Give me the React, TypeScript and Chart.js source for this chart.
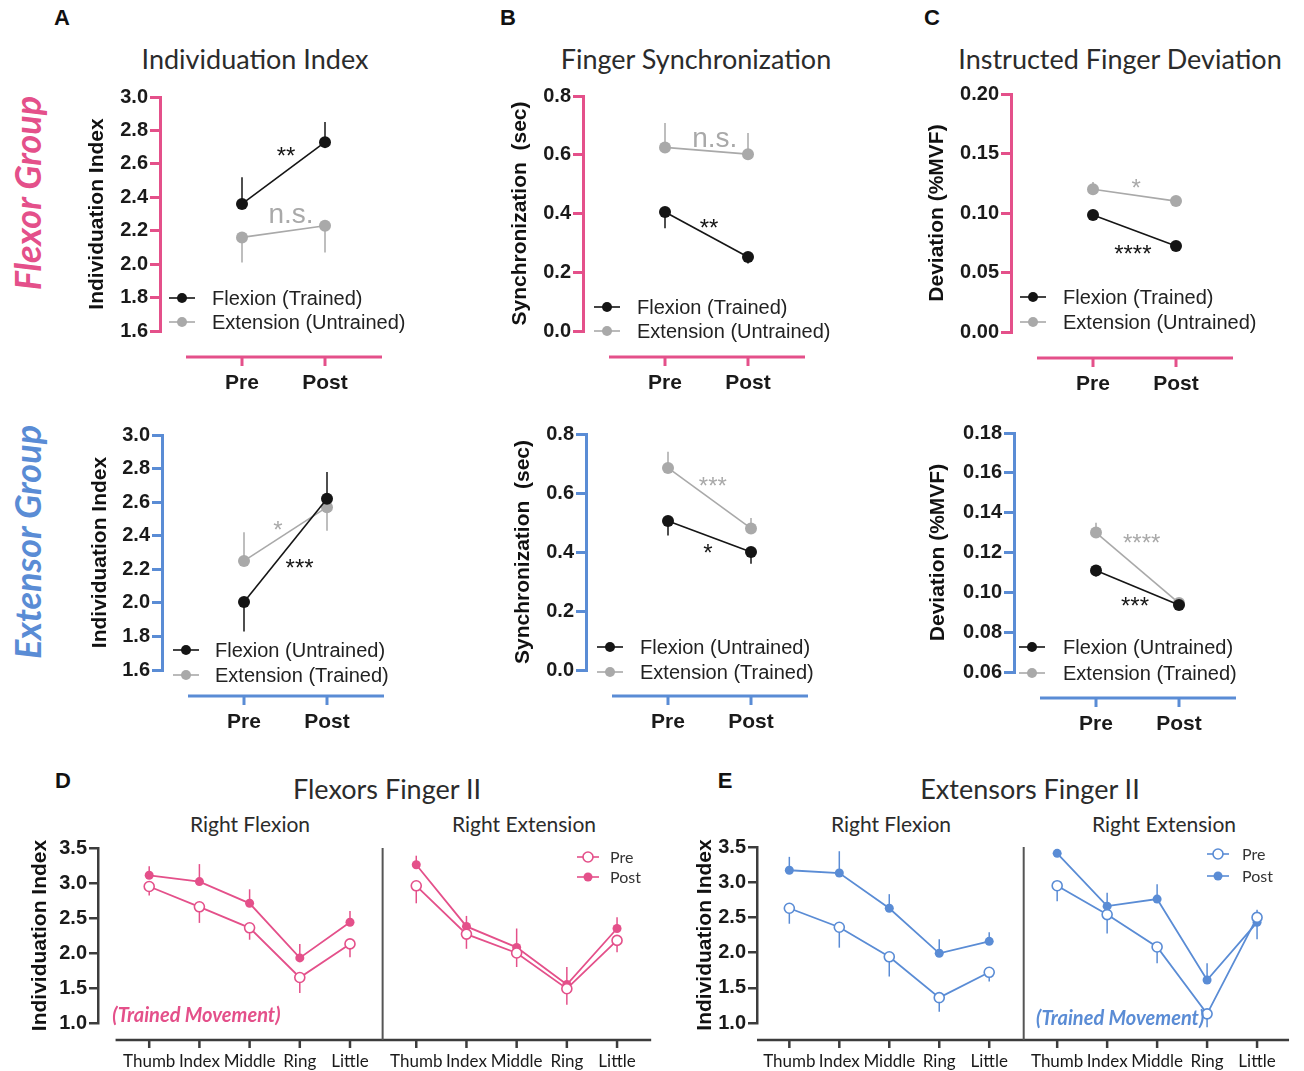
import React, { useEffect, useRef } from "react";
import { Chart, registerables } from "chart.js";
Chart.register(...registerables);

// ---------- colours & fonts ----------
const PINK = "#E4508A";
const BLUE = "#5A8CD5";
const DARK = "#151515";
const GRAY = "#A9A9A9";
const AXIS_DARK = "#3C3C3C";
const ARIAL = "'Liberation Sans', Arial, sans-serif";
const LATO = "Lato, 'Open Sans', sans-serif";

// ---------- categories ----------
const PHASES = ["Pre", "Post"];
const FINGERS = ["Thumb", "Index", "Middle", "Ring", "Little"];

// ---------- A: Individuation Index ----------
const A_FLEX_FLEXION = [2.36, 2.73];
const A_FLEX_FLEXION_HI = [2.52, 2.85];
const A_FLEX_EXTENSION = [2.16, 2.23];
const A_FLEX_EXTENSION_LO = [2.01, 2.07];
const A_EXT_FLEXION = [2.005, 2.62];
const A_EXT_FLEXION_HI = [null, 2.78];
const A_EXT_FLEXION_LO = [1.83, null];
const A_EXT_EXTENSION = [2.25, 2.57];
const A_EXT_EXTENSION_HI = [2.42, null];
const A_EXT_EXTENSION_LO = [null, 2.43];
const A_TICKS = { min: 1.6, max: 3.0, step: 0.2, decimals: 1 };

// ---------- B: Finger Synchronization ----------
const B_FLEX_FLEXION = [0.405, 0.252];
const B_FLEX_FLEXION_LO = [0.35, 0.23];
const B_FLEX_EXTENSION = [0.625, 0.602];
const B_FLEX_EXTENSION_HI = [0.708, 0.674];
const B_EXT_FLEXION = [0.505, 0.4];
const B_EXT_FLEXION_LO = [0.456, 0.36];
const B_EXT_EXTENSION = [0.685, 0.48];
const B_EXT_EXTENSION_HI = [0.74, 0.515];
const B_TICKS = { min: 0, max: 0.8, step: 0.2, decimals: 1 };

// ---------- C: Instructed Finger Deviation ----------
const C_FLEX_FLEXION = [0.0983, 0.0723];
const C_FLEX_EXTENSION = [0.12, 0.11];
const C_FLEX_EXTENSION_HI = [0.126, 0.114];
const C_EXT_FLEXION = [0.111, 0.0936];
const C_EXT_FLEXION_LO = [0.108, null];
const C_EXT_EXTENSION = [0.13, 0.0946];
const C_EXT_EXTENSION_HI = [0.135, null];
const C_FLEX_TICKS = { min: 0, max: 0.2, step: 0.05, decimals: 2 };
const C_EXT_TICKS = { min: 0.06, max: 0.18, step: 0.02, decimals: 2 };

// ---------- D: Flexors Finger II ----------
const D_FLEXION_PRE = [2.95, 2.66, 2.36, 1.65, 2.13];
const D_FLEXION_PRE_LO = [2.82, 2.43, 2.19, 1.43, 1.94];
const D_FLEXION_POST = [3.11, 3.02, 2.71, 1.93, 2.44];
const D_FLEXION_POST_HI = [3.24, 3.27, 2.91, 2.13, 2.6];
const D_EXTENSION_PRE = [2.96, 2.27, 2.0, 1.49, 2.18];
const D_EXTENSION_PRE_LO = [2.71, 2.06, 1.8, 1.26, 2.01];
const D_EXTENSION_POST = [3.26, 2.38, 2.08, 1.55, 2.35];
const D_EXTENSION_POST_HI = [3.39, 2.53, 2.35, 1.8, 2.51];

// ---------- E: Extensors Finger II ----------
const E_FLEXION_PRE = [2.63, 2.36, 1.94, 1.36, 1.72];
const E_FLEXION_PRE_LO = [2.41, 2.07, 1.66, 1.16, 1.59];
const E_FLEXION_POST = [3.17, 3.13, 2.63, 1.99, 2.16];
const E_FLEXION_POST_HI = [3.36, 3.44, 2.83, 2.19, 2.29];
const E_EXTENSION_PRE = [2.95, 2.54, 2.08, 1.13, 2.5];
const E_EXTENSION_PRE_LO = [2.73, 2.27, 1.85, 0.94, null];
const E_EXTENSION_PRE_HI = [null, null, null, null, 2.61];
const E_EXTENSION_POST = [3.41, 2.66, 2.76, 1.61, 2.43];
const E_EXTENSION_POST_HI = [null, 2.85, 2.97, 1.85, null];
const E_EXTENSION_POST_LO = [null, null, null, null, 2.19];
const FINGER_TICKS = { min: 1.0, max: 3.5, step: 0.5, decimals: 1 };

// ---------- types ----------
type Box = { left: number; top: number; right: number; bottom: number };
type Bound = (number | null)[];
type Series = { label: string; color: string; values: number[]; hi?: Bound; lo?: Bound; open?: boolean };
type Note = { text: string; x: number; y: number; color: string; font: string; size: number };
type Ticks = { min: number; max: number; step: number; decimals: number };

// ---------- plugins ----------
const errorBarPlugin = {
  id: "errorBars",
  beforeDatasetsDraw(chart: any) {
    const ctx = chart.ctx;
    const ys = chart.scales.y;
    chart.data.datasets.forEach((ds: any, di: number) => {
      const meta = chart.getDatasetMeta(di);
      ctx.save();
      ctx.strokeStyle = ds.borderColor;
      ctx.lineWidth = ds.errWidth || 1.5;
      meta.data.forEach((pt: any, i: number) => {
        [ds.errHi && ds.errHi[i], ds.errLo && ds.errLo[i]].forEach((b: any) => {
          if (b === null || b === undefined) return;
          ctx.beginPath();
          ctx.moveTo(pt.x, pt.y);
          ctx.lineTo(pt.x, ys.getPixelForValue(b));
          ctx.stroke();
        });
      });
      ctx.restore();
    });
  },
};

function detachedAxisPlugin(cfg: { from: number; to: number; gap: number; color: string; width: number; tickLen: number; ticks: number[] }) {
  return {
    id: "detachedAxis",
    afterDraw(chart: any) {
      const { ctx, chartArea } = chart;
      const xs = chart.scales.x;
      const y = chartArea.bottom + cfg.gap;
      ctx.save();
      ctx.strokeStyle = cfg.color;
      ctx.lineWidth = cfg.width;
      ctx.beginPath();
      ctx.moveTo(xs.getPixelForValue(cfg.from), y);
      ctx.lineTo(xs.getPixelForValue(cfg.to), y);
      ctx.stroke();
      cfg.ticks.forEach((v) => {
        const x = xs.getPixelForValue(v);
        ctx.beginPath();
        ctx.moveTo(x, y);
        ctx.lineTo(x, y + cfg.tickLen);
        ctx.stroke();
      });
      ctx.restore();
    },
  };
}

function separatorPlugin(cfg: { at: number; gap: number; color: string; width: number }) {
  return {
    id: "separator",
    afterDraw(chart: any) {
      const { ctx, chartArea } = chart;
      const x = chart.scales.x.getPixelForValue(cfg.at);
      ctx.save();
      ctx.strokeStyle = cfg.color;
      ctx.lineWidth = cfg.width;
      ctx.beginPath();
      ctx.moveTo(x, chartArea.top);
      ctx.lineTo(x, chartArea.bottom + cfg.gap);
      ctx.stroke();
      ctx.restore();
    },
  };
}

function notesPlugin(notes: Note[]) {
  return {
    id: "notes",
    afterDatasetsDraw(chart: any) {
      const ctx = chart.ctx;
      ctx.save();
      notes.forEach((n) => {
        const x = chart.scales.x.getPixelForValue(n.x);
        const y = chart.scales.y.getPixelForValue(n.y);
        ctx.font = n.font;
        ctx.fillStyle = n.color;
        ctx.textAlign = "center";
        ctx.textBaseline = "alphabetic";
        const lift = n.text.includes("*") ? 0.58 : n.text.includes("(") ? 0.33 : 0.26;
        ctx.fillText(n.text, x, y + lift * n.size);
      });
      ctx.restore();
    },
  };
}

function legendPlugin(cfg: { indices: number[]; markerDx: number; textDx: number; rows: number[]; fromBottom: boolean; font: string; color: string; half: number; radius: number }) {
  return {
    id: "insetLegend",
    afterDraw(chart: any) {
      const { ctx, chartArea } = chart;
      ctx.save();
      cfg.indices.forEach((di, k) => {
        const ds = chart.data.datasets[di];
        const y = (cfg.fromBottom ? chartArea.bottom : chartArea.top) + cfg.rows[k];
        const mx = chartArea.left + cfg.markerDx;
        ctx.strokeStyle = ds.borderColor;
        ctx.lineWidth = 1.6;
        ctx.beginPath();
        ctx.moveTo(mx - cfg.half, y);
        ctx.lineTo(mx + cfg.half, y);
        ctx.stroke();
        ctx.beginPath();
        ctx.arc(mx, y, ds.open ? cfg.radius + 0.5 : cfg.radius, 0, Math.PI * 2);
        ctx.fillStyle = ds.open ? "#ffffff" : ds.borderColor;
        ctx.fill();
        if (ds.open) ctx.stroke();
        ctx.font = cfg.font;
        ctx.fillStyle = cfg.color;
        ctx.textAlign = "left";
        ctx.textBaseline = "middle";
        ctx.fillText(ds.label, chartArea.left + cfg.textDx, y + 1);
      });
      ctx.restore();
    },
  };
}

// ---------- chart builders ----------
type Built = { rect: { x: number; y: number; w: number; h: number }; config: any };

function frame(area: Box, extra: { l: number; t: number; r: number; b: number }, yW: number, xH: number) {
  const rect = {
    x: area.left - extra.l,
    y: area.top - extra.t,
    w: area.right - area.left + extra.l + extra.r,
    h: area.bottom - area.top + extra.t + extra.b,
  };
  const padding = { left: extra.l - yW, top: extra.t, right: extra.r, bottom: extra.b - xH };
  return { rect, padding };
}

function yScale(t: Ticks, color: string, width: number, title: string, yW: number, tickLen: number) {
  return {
    type: "linear",
    min: t.min,
    max: t.max,
    afterFit: (s: any) => {
      s.width = yW;
    },
    afterBuildTicks: (s: any) => {
      const arr: any[] = [];
      for (let v = t.min; v <= t.max + 1e-9; v += t.step) arr.push({ value: +v.toFixed(6) });
      s.ticks = arr;
    },
    ticks: {
      color: "#1a1a1a",
      padding: 2,
      font: { family: ARIAL, size: 20, weight: "bold" },
      callback: (v: any) => Number(v).toFixed(t.decimals),
    },
    grid: { display: true, drawOnChartArea: false, drawTicks: true, tickLength: tickLen, color, lineWidth: width },
    border: { display: true, color, width },
    title: { display: true, text: title, color: "#111", padding: 0, font: { family: ARIAL, size: 21, weight: "bold", lineHeight: 1.2 } },
  };
}

function xScale(min: number, max: number, values: number[], labels: string[], xH: number, font: any, pad: number) {
  return {
    type: "linear",
    min,
    max,
    afterFit: (s: any) => {
      s.height = xH;
    },
    afterBuildTicks: (s: any) => {
      s.ticks = values.map((v) => ({ value: v }));
    },
    ticks: { autoSkip: false, maxRotation: 0, color: "#1a1a1a", padding: pad, font, callback: (_v: any, i: number) => labels[i] },
    grid: { display: false, drawTicks: false },
    border: { display: false },
  };
}

function makeDataset(s: Series, xs: number[], radius: number, lineWidth: number) {
  return {
    label: s.label,
    data: s.values.map((v, i) => ({ x: xs[i], y: v })),
    borderColor: s.color,
    backgroundColor: s.open ? "#ffffff" : s.color,
    pointBackgroundColor: s.open ? "#ffffff" : s.color,
    pointBorderColor: s.color,
    pointBorderWidth: s.open ? 1.6 : 0,
    pointRadius: radius,
    pointHoverRadius: radius,
    borderWidth: lineWidth,
    showLine: true,
    fill: false,
    tension: 0,
    clip: false,
    errHi: s.hi,
    errLo: s.lo,
    open: !!s.open,
  };
}

type SmallSpec = {
  area: Box;
  axisColor: string;
  ticks: Ticks;
  yTitle: string;
  titleCX: number;
  series: Series[];
  notes: Note[];
  legend: { markerDx: number; textDx: number; rows: number[] };
};

function buildSmall(sp: SmallSpec): Built {
  const yW = sp.area.left - sp.titleCX + 12.6;
  const xH = 72;
  const { rect, padding } = frame(sp.area, { l: 110, t: 30, r: 48, b: 75 }, yW, xH);
  const unit = 83;
  const preDx = 82;
  const width = sp.area.right - sp.area.left;
  const xmin = -preDx / unit;
  const xmax = (width - preDx) / unit;
  const xs = [0, 1];
  return {
    rect,
    config: {
      type: "line",
      data: { datasets: sp.series.map((s) => makeDataset(s, xs, 6, 1.6)) },
      options: {
        responsive: false,
        animation: false,
        devicePixelRatio: 1,
        layout: { autoPadding: false, padding },
        plugins: { legend: { display: false }, tooltip: { enabled: false } },
        scales: {
          x: xScale(xmin, xmax, xs, PHASES, xH, { family: ARIAL, size: 21, weight: "bold" }, 40),
          y: yScale(sp.ticks, sp.axisColor, 3, sp.yTitle, yW, 10),
        },
      },
      plugins: [
        errorBarPlugin,
        detachedAxisPlugin({ from: (26 - preDx) / unit, to: (222 - preDx) / unit, gap: 26, color: sp.axisColor, width: 3, tickLen: 9, ticks: xs }),
        notesPlugin(sp.notes),
        legendPlugin({ indices: [0, 1], markerDx: sp.legend.markerDx, textDx: sp.legend.textDx, rows: sp.legend.rows, fromBottom: true, font: `20px ${ARIAL}`, color: "#222", half: 13, radius: 5 }),
      ],
    },
  };
}

type FingerSpec = {
  area: Box;
  color: string;
  xMin: number;
  xMax: number;
  rightShift: number;
  axisFrom: number;
  separatorAt: number;
  titleCX: number;
  flexPre: Series;
  flexPost: Series;
  extPre: Series;
  extPost: Series;
  notes: Note[];
  legend: { markerDx: number; textDx: number; rows: number[] };
  extraLeft: number;
};

function buildFinger(sp: FingerSpec): Built {
  const yW = sp.area.left - sp.titleCX + 12.6;
  const xH = 48;
  const { rect, padding } = frame(sp.area, { l: sp.extraLeft, t: 22, r: 4, b: 48 }, yW, xH);
  const left = FINGERS.map((_, i) => i);
  const right = FINGERS.map((_, i) => i + sp.rightShift);
  const tickVals = [...left, ...right];
  const tickLabels = [...FINGERS, ...FINGERS];
  return {
    rect,
    config: {
      type: "line",
      data: {
        datasets: [
          makeDataset(sp.flexPre, left, 5, 1.8),
          makeDataset(sp.flexPost, left, 4.5, 1.8),
          makeDataset(sp.extPre, right, 5, 1.8),
          makeDataset(sp.extPost, right, 4.5, 1.8),
        ],
      },
      options: {
        responsive: false,
        animation: false,
        devicePixelRatio: 1,
        layout: { autoPadding: false, padding },
        plugins: { legend: { display: false }, tooltip: { enabled: false } },
        scales: {
          x: xScale(sp.xMin, sp.xMax, tickVals, tickLabels, xH, { family: LATO, size: 17 }, 28),
          y: yScale(FINGER_TICKS, AXIS_DARK, 2.5, "Individuation Index", yW, 9),
        },
      },
      plugins: [
        errorBarPlugin,
        detachedAxisPlugin({ from: sp.axisFrom, to: sp.xMax, gap: 17, color: AXIS_DARK, width: 2.5, tickLen: 8, ticks: tickVals }),
        separatorPlugin({ at: sp.separatorAt, gap: 17, color: "#555555", width: 2 }),
        notesPlugin(sp.notes),
        legendPlugin({ indices: [0, 1], markerDx: sp.legend.markerDx, textDx: sp.legend.textDx, rows: sp.legend.rows, fromBottom: false, font: `16px ${LATO}`, color: "#333", half: 11, radius: 4.5 }),
      ],
    },
  };
}

// ---------- specs ----------
const FLEX_T = "Flexion (Trained)";
const EXT_U = "Extension (Untrained)";
const FLEX_U = "Flexion (Untrained)";
const EXT_T = "Extension (Trained)";
const star = (size: number) => `${size}px ${ARIAL}`;
const TRAINED_FONT = `italic bold 20px ${LATO}`;

const CHARTS: Built[] = [
  buildSmall({
    area: { left: 160, top: 97, right: 400, bottom: 331 },
    axisColor: PINK,
    ticks: A_TICKS,
    yTitle: "Individuation Index",
    titleCX: 97,
    series: [
      { label: FLEX_T, color: DARK, values: A_FLEX_FLEXION, hi: A_FLEX_FLEXION_HI },
      { label: EXT_U, color: GRAY, values: A_FLEX_EXTENSION, lo: A_FLEX_EXTENSION_LO },
    ],
    notes: [
      { text: "**", x: 0.53, y: 2.68, color: DARK, font: star(24), size: 24 },
      { text: "n.s.", x: 0.59, y: 2.29, color: GRAY, font: star(28), size: 28 },
    ],
    legend: { markerDx: 22, textDx: 52, rows: [-33, -9] },
  }),
  buildSmall({
    area: { left: 583, top: 96, right: 823, bottom: 331 },
    axisColor: PINK,
    ticks: B_TICKS,
    yTitle: "Synchronization  (sec)",
    titleCX: 520,
    series: [
      { label: FLEX_T, color: DARK, values: B_FLEX_FLEXION, lo: B_FLEX_FLEXION_LO },
      { label: EXT_U, color: GRAY, values: B_FLEX_EXTENSION, hi: B_FLEX_EXTENSION_HI },
    ],
    notes: [
      { text: "n.s.", x: 0.6, y: 0.652, color: GRAY, font: star(28), size: 28 },
      { text: "**", x: 0.53, y: 0.371, color: DARK, font: star(24), size: 24 },
    ],
    legend: { markerDx: 24, textDx: 54, rows: [-24, 0] },
  }),
  buildSmall({
    area: { left: 1011, top: 94, right: 1251, bottom: 332 },
    axisColor: PINK,
    ticks: C_FLEX_TICKS,
    yTitle: "Deviation (%MVF)",
    titleCX: 937,
    series: [
      { label: FLEX_T, color: DARK, values: C_FLEX_FLEXION },
      { label: EXT_U, color: GRAY, values: C_FLEX_EXTENSION, hi: C_FLEX_EXTENSION_HI },
    ],
    notes: [
      { text: "*", x: 0.52, y: 0.126, color: GRAY, font: star(24), size: 24 },
      { text: "****", x: 0.48, y: 0.0706, color: DARK, font: star(24), size: 24 },
    ],
    legend: { markerDx: 22, textDx: 52, rows: [-35, -10] },
  }),
  buildSmall({
    area: { left: 162, top: 435, right: 402, bottom: 670 },
    axisColor: BLUE,
    ticks: A_TICKS,
    yTitle: "Individuation Index",
    titleCX: 100,
    series: [
      { label: FLEX_U, color: DARK, values: A_EXT_FLEXION, hi: A_EXT_FLEXION_HI, lo: A_EXT_FLEXION_LO },
      { label: EXT_T, color: GRAY, values: A_EXT_EXTENSION, hi: A_EXT_EXTENSION_HI, lo: A_EXT_EXTENSION_LO },
    ],
    notes: [
      { text: "*", x: 0.41, y: 2.47, color: GRAY, font: star(24), size: 24 },
      { text: "***", x: 0.67, y: 2.24, color: DARK, font: star(24), size: 24 },
    ],
    legend: { markerDx: 24, textDx: 53, rows: [-20, 5] },
  }),
  buildSmall({
    area: { left: 586, top: 434, right: 826, bottom: 670 },
    axisColor: BLUE,
    ticks: B_TICKS,
    yTitle: "Synchronization  (sec)",
    titleCX: 523,
    series: [
      { label: FLEX_U, color: DARK, values: B_EXT_FLEXION, lo: B_EXT_FLEXION_LO },
      { label: EXT_T, color: GRAY, values: B_EXT_EXTENSION, hi: B_EXT_EXTENSION_HI },
    ],
    notes: [
      { text: "***", x: 0.54, y: 0.644, color: GRAY, font: star(24), size: 24 },
      { text: "*", x: 0.48, y: 0.417, color: DARK, font: star(24), size: 24 },
    ],
    legend: { markerDx: 24, textDx: 54, rows: [-23, 2] },
  }),
  buildSmall({
    area: { left: 1014, top: 433, right: 1254, bottom: 672 },
    axisColor: BLUE,
    ticks: C_EXT_TICKS,
    yTitle: "Deviation (%MVF)",
    titleCX: 938,
    series: [
      { label: FLEX_U, color: DARK, values: C_EXT_FLEXION, lo: C_EXT_FLEXION_LO },
      { label: EXT_T, color: GRAY, values: C_EXT_EXTENSION, hi: C_EXT_EXTENSION_HI },
    ],
    notes: [
      { text: "****", x: 0.55, y: 0.1278, color: GRAY, font: star(24), size: 24 },
      { text: "***", x: 0.47, y: 0.0962, color: DARK, font: star(24), size: 24 },
    ],
    legend: { markerDx: 18, textDx: 49, rows: [-25, 1] },
  }),
  buildFinger({
    area: { left: 98, top: 848, right: 660, bottom: 1023 },
    color: PINK,
    xMin: -1.02,
    xMax: 10.0,
    rightShift: 5.32,
    axisFrom: -0.67,
    separatorAt: 4.65,
    titleCX: 40,
    extraLeft: 98,
    flexPre: { label: "Pre", color: PINK, values: D_FLEXION_PRE, lo: D_FLEXION_PRE_LO, open: true },
    flexPost: { label: "Post", color: PINK, values: D_FLEXION_POST, hi: D_FLEXION_POST_HI },
    extPre: { label: "Pre", color: PINK, values: D_EXTENSION_PRE, lo: D_EXTENSION_PRE_LO, open: true },
    extPost: { label: "Post", color: PINK, values: D_EXTENSION_POST, hi: D_EXTENSION_POST_HI },
    notes: [{ text: "(Trained Movement)", x: 0.94, y: 1.11, color: PINK, font: TRAINED_FONT, size: 20 }],
    legend: { markerDx: 490, textDx: 512, rows: [9, 29] },
  }),
  buildFinger({
    area: { left: 757, top: 847, right: 1300, bottom: 1023 },
    color: BLUE,
    xMin: -0.647,
    xMax: 10.0,
    rightShift: 5.36,
    axisFrom: -0.647,
    separatorAt: 4.69,
    titleCX: 705,
    extraLeft: 80,
    flexPre: { label: "Pre", color: BLUE, values: E_FLEXION_PRE, lo: E_FLEXION_PRE_LO, open: true },
    flexPost: { label: "Post", color: BLUE, values: E_FLEXION_POST, hi: E_FLEXION_POST_HI },
    extPre: { label: "Pre", color: BLUE, values: E_EXTENSION_PRE, hi: E_EXTENSION_PRE_HI, lo: E_EXTENSION_PRE_LO, open: true },
    extPost: { label: "Post", color: BLUE, values: E_EXTENSION_POST, hi: E_EXTENSION_POST_HI, lo: E_EXTENSION_POST_LO },
    notes: [{ text: "(Trained Movement)", x: 6.62, y: 1.07, color: BLUE, font: TRAINED_FONT, size: 20 }],
    legend: { markerDx: 461, textDx: 485, rows: [7, 29] },
  }),
];

// ---------- static text ----------
type Label = { text: string; x: number; y: number; font: string; color: string; rotate?: boolean };
const TITLE_FONT = `27px ${LATO}`;
const SUB_FONT = `21px ${LATO}`;
const LETTER_FONT = `bold 22px ${ARIAL}`;
const GROUP_FONT = `italic bold 36px ${LATO}`;
const LABELS: Label[] = [
  { text: "A", x: 62, y: 18, font: LETTER_FONT, color: "#111" },
  { text: "B", x: 508, y: 18, font: LETTER_FONT, color: "#111" },
  { text: "C", x: 932, y: 18, font: LETTER_FONT, color: "#111" },
  { text: "D", x: 63, y: 781, font: LETTER_FONT, color: "#111" },
  { text: "E", x: 725, y: 781, font: LETTER_FONT, color: "#111" },
  { text: "Individuation Index", x: 255, y: 58, font: TITLE_FONT, color: "#2b2b2b" },
  { text: "Finger Synchronization", x: 696, y: 58, font: TITLE_FONT, color: "#2b2b2b" },
  { text: "Instructed Finger Deviation", x: 1120, y: 58, font: TITLE_FONT, color: "#2b2b2b" },
  { text: "Flexors Finger II", x: 387, y: 788, font: TITLE_FONT, color: "#2b2b2b" },
  { text: "Extensors Finger II", x: 1030, y: 788, font: TITLE_FONT, color: "#2b2b2b" },
  { text: "Right Flexion", x: 250, y: 823, font: SUB_FONT, color: "#2b2b2b" },
  { text: "Right Extension", x: 524, y: 823, font: SUB_FONT, color: "#2b2b2b" },
  { text: "Right Flexion", x: 891, y: 823, font: SUB_FONT, color: "#2b2b2b" },
  { text: "Right Extension", x: 1164, y: 823, font: SUB_FONT, color: "#2b2b2b" },
  { text: "Flexor Group", x: 27, y: 193, font: GROUP_FONT, color: PINK, rotate: true },
  { text: "Extensor Group", x: 27, y: 542, font: GROUP_FONT, color: BLUE, rotate: true },
];

function ChartCanvas({ built }: { built: Built }) {
  const ref = useRef<HTMLCanvasElement | null>(null);
  useEffect(() => {
    if (!ref.current) return;
    const chart = new Chart(ref.current, built.config);
    return () => chart.destroy();
  }, [built]);
  const r = built.rect;
  return (
    <canvas
      ref={ref}
      width={r.w}
      height={r.h}
      style={{ position: "absolute", left: r.x, top: r.y, width: r.w, height: r.h }}
    />
  );
}

export default function App() {
  return (
    <div style={{ position: "absolute", left: 0, top: 0, width: 1304, height: 1071, background: "#ffffff", overflow: "hidden" }}>
      {LABELS.map((l, i) => (
        <div
          key={i}
          style={{
            position: "absolute",
            left: l.x,
            top: l.y,
            font: l.font,
            color: l.color,
            whiteSpace: "nowrap",
            lineHeight: 1,
            transform: `translate(-50%, -50%)${l.rotate ? " rotate(-90deg)" : ""}`,
          }}
        >
          {l.text}
        </div>
      ))}
      {CHARTS.map((b, i) => (
        <ChartCanvas key={i} built={b} />
      ))}
    </div>
  );
}
